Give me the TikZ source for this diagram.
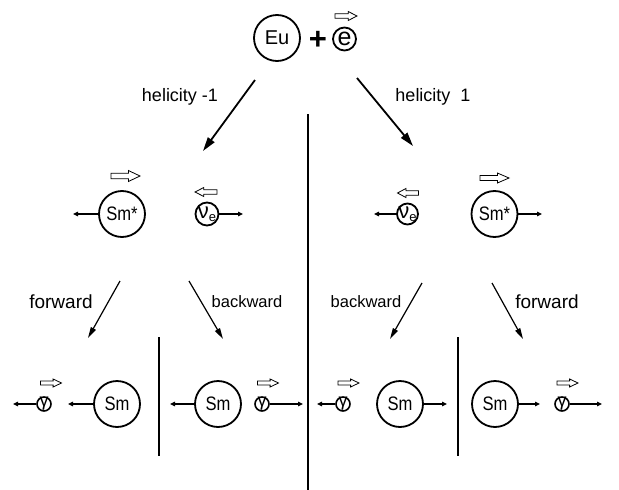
\documentclass[tikz,border=0pt]{standalone}
\usepackage{fontspec}
\setmainfont{Liberation Sans}
\newfontfamily\nfont[FakeStretch=0.85]{Liberation Sans}
\usetikzlibrary{arrows.meta}
\newcommand\ctr[2]{\makebox[0pt]{\raisebox{#1}[0pt][0pt]{#2}}}
\newcommand\spinarr[4]{\draw[spinline,shift={(#1,#2)},xscale=#3,yscale=#4] (-1,-0.5) -- (0.2,-0.5) -- (0.2,-1) -- (1,0) -- (0.2,1) -- (0.2,0.5) -- (-1,0.5) -- cycle;}
\begin{document}
\begin{tikzpicture}[x=1pt,y=-1pt,
  part/.style={circle,draw,line width=1.8pt,inner sep=0pt},
  big/.style={part,minimum size=46pt,font=\nfont\fontsize{19.5}{19.5}\selectfont},
  gam/.style={part,minimum size=14pt,line width=1.6pt,font=\fontsize{18}{18}\selectfont},
  nu/.style={part,minimum size=23pt,font=\fontsize{22}{22}\selectfont},
  hel/.style={line width=1.8pt,-{Triangle[length=14pt,width=8pt]}},
  dirarrow/.style={line width=1.2pt,-{Triangle[length=11pt,width=5.5pt]}},
  mom/.style={line width=1.1pt,-{Triangle[length=5pt,width=4.5pt]}},
  spinline/.style={line width=0.8pt},
  sepline/.style={line width=1.1pt},
  lbl/.style={inner sep=0pt,font=\fontsize{18}{18}\selectfont},
  lblb/.style={inner sep=0pt,font=\fontsize{16.5}{16.5}\selectfont},
  lblf/.style={inner sep=0pt,font=\fontsize{19}{19}\selectfont}]
\useasboundingbox (0,0) rectangle (619,490);

% top
\node[big,font=\fontsize{20}{20}\selectfont] (eu) at (277,38) {Eu};
\node[inner sep=0pt,font=\bfseries\fontsize{31}{31}\selectfont] (plus) at (318,40) {+};
\node[part,minimum size=23pt,font=\fontsize{25}{25}\selectfont] (e) at (344.5,39) {\ctr{-0.27em}{e}};
\spinarr{346}{16}{11}{4.5}

% helicity arrows
\coordinate (hl0) at (255,80); \coordinate (hl1) at (203,151);
\coordinate (hr0) at (357,78); \coordinate (hr1) at (413,146);
\draw[hel] (hl0) -- (hl1);
\draw[hel] (hr0) -- (hr1);
\node[lbl] (hlab) at (180,97) {helicity -1};
\node[lbl] (hrab) at (433,97) {helicity\ \ 1};

% center separator
\coordinate (c0) at (308,114); \coordinate (c1) at (308,490);
\draw[sepline] (c0) -- (c1);

% middle row
\node[big] (smsL) at (122,214) {Sm*};
\coordinate (smsLm) at (73,214);
\draw[mom] (smsL.west) -- (smsLm);
\spinarr{125.5}{176}{14.5}{5.5}

\node[nu] (nuL) at (207,214) {\ctr{-0.22em}{ν\raisebox{-0.12em}{\fontsize{13}{13}\selectfont e}}};
\coordinate (nuLm) at (243,214);
\draw[mom] (nuL.east) -- (nuLm);
\spinarr{206}{192}{-11}{4.5}

\node[nu,minimum size=21pt] (nuR) at (407.5,214) {\ctr{-0.22em}{ν\raisebox{-0.12em}{\fontsize{13}{13}\selectfont e}}};
\coordinate (nuRm) at (374,214);
\draw[mom] (nuR.west) -- (nuRm);
\spinarr{408}{193}{-10.5}{4.5}

\node[big] (smsR) at (494.5,214) {Sm*};
\coordinate (smsRm) at (542,214);
\draw[mom] (smsR.east) -- (smsRm);
\spinarr{494.5}{178}{14.5}{5}

% forward / backward arrows
\coordinate (fl0) at (120,281); \coordinate (fl1) at (88,338);
\coordinate (bl0) at (189,281); \coordinate (bl1) at (223,339);
\coordinate (br0) at (422,283); \coordinate (br1) at (390,339);
\coordinate (fr0) at (492,283); \coordinate (fr1) at (523,339);
\draw[dirarrow] (fl0) -- (fl1);
\draw[dirarrow] (bl0) -- (bl1);
\draw[dirarrow] (br0) -- (br1);
\draw[dirarrow] (fr0) -- (fr1);
\node[lblf] (flab) at (61,302) {forward};
\node[lblb] (blab) at (247,302) {backward};
\node[lblb] (brlab) at (366,302) {backward};
\node[lblf] (frlab) at (547,302) {forward};

% lower separators
\coordinate (sl0) at (159,337); \coordinate (sl1) at (159,456);
\coordinate (sr0) at (458,337); \coordinate (sr1) at (458,456);
\draw[sepline] (sl0) -- (sl1);
\draw[sepline] (sr0) -- (sr1);

% bottom row
\node[gam] (g1) at (44,404) {\ctr{-0.15em}{γ}};
\coordinate (g1m) at (13,404);
\draw[mom] (g1.west) -- (g1m);
\spinarr{51}{383}{10.5}{4}

\node[big] (sm1) at (117,404) {Sm};
\coordinate (sm1m) at (68,404);
\draw[mom] (sm1.west) -- (sm1m);

\node[big] (sm2) at (218,404) {Sm};
\coordinate (sm2m) at (170,404);
\draw[mom] (sm2.west) -- (sm2m);

\node[gam] (g2) at (262,404) {\ctr{-0.15em}{γ}};
\coordinate (g2m) at (303,404);
\draw[mom] (g2.east) -- (g2m);
\spinarr{268}{383}{10.5}{4}

\node[gam] (g3) at (343,404) {\ctr{-0.15em}{γ}};
\coordinate (g3m) at (317,404);
\draw[mom] (g3.west) -- (g3m);
\spinarr{348.5}{383}{10.5}{4}

\node[big] (sm3) at (400,404) {Sm};
\coordinate (sm3m) at (447,404);
\draw[mom] (sm3.east) -- (sm3m);

\node[big] (sm4) at (495,404) {Sm};
\coordinate (sm4m) at (540,404);
\draw[mom] (sm4.east) -- (sm4m);

\node[gam] (g4) at (562,404) {\ctr{-0.15em}{γ}};
\coordinate (g4m) at (602,404);
\draw[mom] (g4.east) -- (g4m);
\spinarr{567.5}{383}{10.5}{4}
\end{tikzpicture}
\end{document}
